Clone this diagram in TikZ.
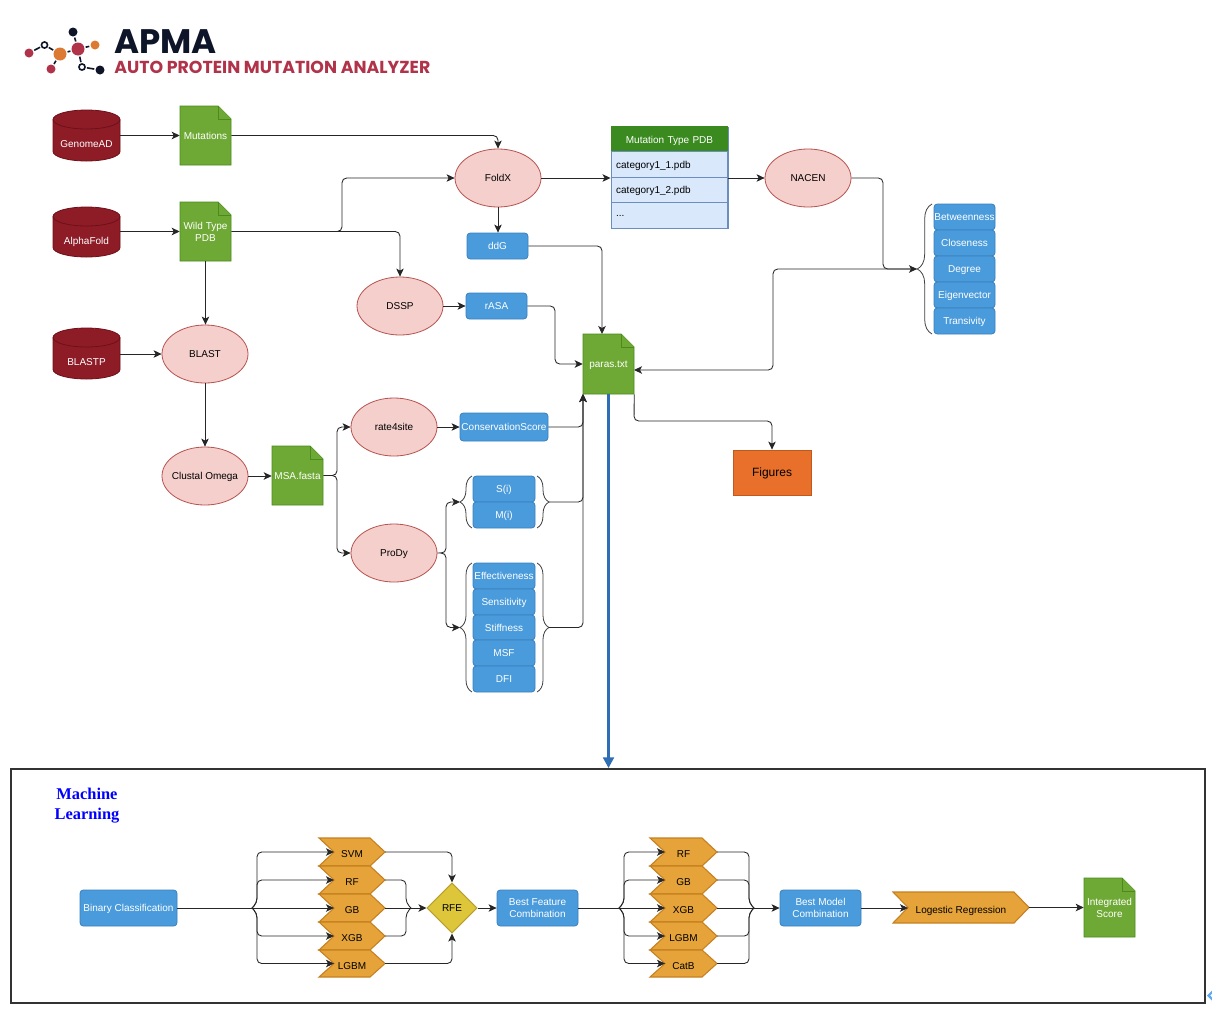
\documentclass[tikz,border=0pt]{standalone}
\usepackage{fontspec}
\setmainfont{Liberation Sans}
\newfontfamily\logofont{Poppins}
\newfontfamily\mlfont{Liberation Serif}
\usetikzlibrary{arrows.meta,shapes.geometric,decorations.pathreplacing}
\definecolor{cylfill}{HTML}{8E1C27}
\definecolor{cylline}{HTML}{6F0F18}
\definecolor{docfill}{HTML}{6FA935}
\definecolor{docline}{HTML}{4C8A1C}
\definecolor{pinkfill}{HTML}{F4CFCC}
\definecolor{pinkline}{HTML}{B85450}
\definecolor{boxfill}{HTML}{4A9BDC}
\definecolor{boxline}{HTML}{3A80BF}
\definecolor{chevfill}{HTML}{E5A33A}
\definecolor{chevline}{HTML}{C6801F}
\definecolor{diafill}{HTML}{DEC63A}
\definecolor{dialine}{HTML}{B8A030}
\definecolor{tabhead}{HTML}{3A8A1F}
\definecolor{tabfill}{HTML}{DAE8FC}
\definecolor{tabline}{HTML}{6C8EBF}
\definecolor{figfill}{HTML}{E8702A}
\definecolor{figline}{HTML}{C05A1C}
\definecolor{bigarrow}{HTML}{2F6DB5}
\definecolor{logodark}{HTML}{0F1528}
\definecolor{logored}{HTML}{B0334A}
\definecolor{logoorange}{HTML}{DC7A33}
\definecolor{cornerblue}{HTML}{5FA8F5}
\tikzset{
  txt/.style={font=\fontsize{7.5}{9}\selectfont,inner sep=0pt,align=center,text depth=0pt},
  wtxt/.style={txt,text=white},
  conn/.style={draw=black!85,line width=0.65pt,rounded corners=3.5pt,-{Stealth[length=6pt,width=5.6pt,inset=1.5pt]}},
  plain/.style={draw=black!85,line width=0.65pt,rounded corners=3.5pt},
  pinknode/.style={txt,ellipse,draw=pinkline,fill=pinkfill,line width=0.6pt,inner sep=-5pt,minimum width=64.5pt,minimum height=43.5pt},
  bluebox/.style={wtxt,rectangle,draw=boxline,fill=boxfill,line width=0.6pt,rounded corners=2.5pt},
  docpath/.style={draw=docline,fill=docfill,line width=0.6pt},
  chevpath/.style={draw=chevline,fill=chevfill,line width=0.8pt},
  cylpath/.style={draw=cylline,fill=cylfill,line width=0.6pt},
  tabrow/.style={txt,rectangle,draw=tabline,fill=tabfill,line width=0.7pt,align=left,inner xsep=3.75pt,text width=80pt,minimum height=19pt},
  bracepath/.style={draw=black!75,line width=0.6pt,decorate},
  logolink/.style={draw=logodark,line width=1.2pt,shorten >=0.8pt,shorten <=0.8pt},
  dotnode/.style={circle,inner sep=0pt},
}
\newcommand{\bbox}[6]{\node[bluebox,minimum width={(#4-#2)*0.75pt},minimum height={(#5-#3)*0.75pt}] (#1) at ({(#2+#4)/2},{(#3+#5)/2}) {#6};}
\newcommand{\docn}[6]{%
  \path[docpath] (#2,#3) -- ({#4-13},#3) -- (#4,{#3+13}) -- (#4,#5) -- (#2,#5) -- cycle;
  \path[docpath] ({#4-13},#3) -- ({#4-13},{#3+13}) -- (#4,{#3+13});
  \node[wtxt,minimum width={(#4-#2)*0.75pt},minimum height={(#5-#3)*0.75pt}] (#1) at ({(#2+#4)/2},{(#3+#5)/2}) {#6};}
\newcommand{\cyln}[6]{%
  \path[cylpath] (#2,{#3+9.5}) -- (#2,{#5-9.5}) arc[start angle=180,end angle=0,x radius={(#4-#2)/2},y radius=9.5] -- (#4,{#3+9.5}) arc[start angle=0,end angle=-180,x radius={(#4-#2)/2},y radius=9.5] -- cycle;
  \draw[cylline,line width=0.6pt] (#2,{#3+9.5}) arc[start angle=180,end angle=0,x radius={(#4-#2)/2},y radius=9.5];
  \node[inner sep=0pt,minimum width={(#4-#2)*0.75pt},minimum height={(#5-#3)*0.75pt}] (#1) at ({(#2+#4)/2},{(#3+#5)/2}) {};
  \node[wtxt] (#1-label) at ({(#2+#4)/2},{(#3+#5)/2+8.5}) {#6};}
\newcommand{\chev}[6]{%
  \path[chevpath] (#2,#3) -- ({#4-15},#3) -- (#4,{(#3+#5)/2}) -- ({#4-15},#5) -- (#2,#5) -- ({#2+15},{(#3+#5)/2}) -- cycle;
  \coordinate (#1-in) at ({#2+15},{(#3+#5)/2});
  \coordinate (#1-out) at (#4,{(#3+#5)/2});
  \node[txt] (#1) at ({(#2+#4)/2},{(#3+#5)/2+2}) {#6};}
\begin{document}
\begin{tikzpicture}[x=0.75pt,y=-0.75pt]
\useasboundingbox (0,0) rectangle (1212,1014);
\fill[white] (0,0) rectangle (1212,1014);

% logo
\node[dotnode,fill=logored,minimum size=6.75pt] (la) at (29,53) {};
\node[dotnode,draw=logodark,fill=white,line width=1.2pt,minimum size=4.6pt] (lb) at (44.5,45) {};
\node[dotnode,fill=logoorange,minimum size=9.75pt] (lc) at (60,54) {};
\node[dotnode,fill=logored,minimum size=9.75pt] (ld) at (78,49) {};
\node[dotnode,fill=logodark,minimum size=6.75pt] (le) at (73,32) {};
\node[dotnode,fill=logoorange,minimum size=6.75pt] (lf) at (95,45) {};
\node[dotnode,fill=logored,minimum size=6.75pt] (lg) at (51,69) {};
\node[dotnode,draw=logodark,fill=white,line width=1.2pt,minimum size=4.6pt] (lh) at (82,67) {};
\node[dotnode,fill=logodark,minimum size=6.75pt] (li) at (100,70) {};
\draw[logolink] (la) -- (lb);
\draw[logolink] (lb) -- (lc);
\draw[logolink] (lc) -- (ld);
\draw[logolink] (ld) -- (le);
\draw[logolink] (ld) -- (lf);
\draw[logolink] (lc) -- (lg);
\draw[logolink] (ld) -- (lh);
\draw[logolink] (lh) -- (li);
\node[anchor=base west,inner sep=0pt,text=logodark,font=\logofont\bfseries\fontsize{25.5}{28}\selectfont] (apma) at (114,53) {APMA};
\node[anchor=base west,inner sep=0pt,text=logored,font=\logofont\bfseries\fontsize{13}{15}\selectfont] (apmasub) at (114,73.5) {AUTO PROTEIN MUTATION ANALYZER};

% sources
\cyln{gnomad}{53}{110}{120}{161}{GenomeAD}
\cyln{afold}{53}{207}{120}{257}{AlphaFold}
\cyln{blastp}{53}{328}{120}{379}{BLASTP}

% docs
\docn{mut}{180}{106}{231}{165}{Mutations}
\docn{wt}{180}{202}{231}{261}{Wild Type\\PDB}
\docn{paras}{583}{334}{634}{394}{paras.txt}
\docn{msa}{272}{446}{323}{505}{MSA.fasta}

% ellipses
\node[pinknode] (foldx) at (498,178) {FoldX};
\node[pinknode] (nacen) at (808,178) {NACEN};
\node[pinknode] (dssp) at (400,306) {DSSP};
\node[pinknode] (blast) at (205,354) {BLAST};
\node[pinknode] (clustal) at (205,476) {Clustal Omega};
\node[pinknode] (rate) at (394,427) {rate4site};
\node[pinknode] (prody) at (394,553) {ProDy};

% table
\node[txt,rectangle,draw=tabline,fill=tabfill,line width=0.7pt,minimum width=87.75pt,minimum height=75.75pt] (table) at (669.5,177.5) {};
\node[tabrow,draw=tabhead,fill=tabhead,text=white,align=center] (thead) at (669.5,139.5) {Mutation Type PDB};
\node[tabrow] (row1) at (669.5,164.5) {category1\_1.pdb};
\node[tabrow] (row2) at (669.5,190) {category1\_2.pdb};
\node[tabrow] (row3) at (669.5,215.5) {...};

% blue boxes
\bbox{ddg}{467}{233}{528}{259}{ddG}
\bbox{rasa}{466}{293}{527}{319}{rASA}
\bbox{cons}{460}{413}{548}{441}{ConservationScore}
\bbox{si}{473}{476}{535}{502}{S(i)}
\bbox{mi}{473}{502}{535}{528}{M(i)}
\bbox{eff}{473}{563}{535}{589}{Effectiveness}
\bbox{sens}{473}{589}{535}{615}{Sensitivity}
\bbox{stif}{473}{615}{535}{640}{Stiffness}
\bbox{msf}{473}{640}{535}{666}{MSF}
\bbox{dfi}{473}{666}{535}{692}{DFI}
\bbox{betw}{934}{204}{995}{230}{Betweenness}
\bbox{clos}{934}{230}{995}{256}{Closeness}
\bbox{degr}{934}{256}{995}{282}{Degree}
\bbox{eigv}{934}{282}{995}{308}{Eigenvector}
\bbox{tran}{934}{308}{995}{334}{Transivity}

% figures
\node[txt,rectangle,draw=figline,fill=figfill,line width=0.6pt,text=black,font=\fontsize{9}{11}\selectfont,minimum width=58.5pt,minimum height=33.75pt] (figs) at (772,472.5) {Figures};

% braces
\coordinate (b1t) at (472,476); \coordinate (b1b) at (472,528); \coordinate (b1tip) at (460,502);
\coordinate (b2t) at (472,563); \coordinate (b2b) at (472,692); \coordinate (b2tip) at (460,627.5);
\coordinate (b3t) at (537,476); \coordinate (b3b) at (537,528); \coordinate (b3tip) at (549,502);
\coordinate (b4t) at (537,563); \coordinate (b4b) at (537,692); \coordinate (b4tip) at (549,627.5);
\coordinate (b5t) at (932,204); \coordinate (b5b) at (932,334); \coordinate (b5tip) at (917,269);
\draw[bracepath,decoration={brace,amplitude=9pt}] (b1b) -- (b1t);
\draw[bracepath,decoration={brace,amplitude=9pt}] (b2b) -- (b2t);
\draw[bracepath,decoration={brace,amplitude=9pt}] (b3t) -- (b3b);
\draw[bracepath,decoration={brace,amplitude=9pt}] (b4t) -- (b4b);
\draw[bracepath,decoration={brace,amplitude=11pt}] (b5b) -- (b5t);

% upper connectors
\draw[conn] (gnomad.east |- mut.west) -- (mut.west);
\draw[conn] (afold.east |- wt.west) -- (wt.west);
\draw[conn] (blastp.east |- blast.west) -- (blast.west);
\draw[conn] (mut.east) -| (foldx.north);
\coordinate (wtfork) at (336,231.5);
\draw[conn] (wtfork) -- (342,231.5) |- (foldx.west);
\draw[conn] (wt.east) -| (dssp.north);
\draw[conn] (wt.south) -- (wt.south |- blast.north);
\draw[conn] (blast.south) -- (clustal.north);
\draw[conn] (clustal.east) -- (clustal.east -| msa.west);
\draw[conn] (foldx.east) -- (foldx.east -| table.west);
\draw[conn] (foldx.east -| table.east) -- (nacen.west);
\draw[conn] (foldx.south) -- (foldx.south |- ddg.north);
\draw[conn] (dssp.east) -- (rasa.west);
\draw[conn] (ddg.east) -- (602,246) -- (602,334);
\draw[conn] (rasa.east) -- (555,306) -- (555,364) -- (paras.west);
\draw[conn] (nacen.east) -- (883,178) -- (883,269) -- (b5tip);
\coordinate (parasr) at (634,370);
\draw[conn] (b5tip) -- (773,269) -- (773,370) -- (parasr);
\draw[conn] (paras.south east) -- (634,421) -- (772,421) -- (figs.north);
\coordinate (parasb) at (583,394);
\draw[conn] (msa.east) -- (337,475.5) |- (rate.west);
\coordinate (msafork) at (333,475.5);
\draw[conn] (msafork) -- (337,475.5) |- (prody.west);
\draw[conn] (rate.east) -- (cons.west);
\draw[conn] (cons.east) -| (parasb);
\draw[conn] (b3tip) -| (parasb);
\draw[conn] (b4tip) -| (parasb);
\draw[conn] (prody.east) -- (446,553) |- (b1tip);
\coordinate (prodyfork) at (442,553);
\draw[conn] (prodyfork) -- (446,553) |- (b2tip);

% ML box
\node[rectangle,draw=black!80,line width=1.4pt,minimum width=895.5pt,minimum height=175.5pt,inner sep=0pt] (mlbox) at (608,886) {};
\draw[-{Triangle[length=8pt,width=8pt]},bigarrow,line width=2.3pt] (paras.south) -- (paras.south |- mlbox.north);
\node[font=\mlfont\bfseries\fontsize{12.3}{15}\selectfont,text=blue,align=center,inner sep=0pt] (mltitle) at (87,805.5) {Machine\\Learning};

\bbox{bin}{80}{890}{177}{926}{Binary Classification}
\bbox{bestf}{497}{890}{578}{926}{Best Feature\\Combination}
\bbox{bestm}{780}{890}{861}{926}{Best Model\\Combination}

\chev{svm}{319}{838}{385}{866}{SVM}
\chev{rfa}{319}{866}{385}{894}{RF}
\chev{gba}{319}{894}{385}{922}{GB}
\chev{xgba}{319}{922}{385}{950}{XGB}
\chev{lgba}{319}{950}{385}{977}{LGBM}
\chev{rfb}{650}{838}{717}{866}{RF}
\chev{gbb}{650}{866}{717}{894}{GB}
\chev{xgbb}{650}{894}{717}{922}{XGB}
\chev{lgbb}{650}{922}{717}{950}{LGBM}
\chev{catb}{650}{950}{717}{977}{CatB}
\chev{logr}{893}{892}{1029}{923}{Logestic Regression}
\node[txt,diamond,draw=dialine,fill=diafill,line width=0.8pt,inner sep=-3pt,minimum width=37.5pt,minimum height=37.5pt] (rfe) at (452,908) {RFE};
\docn{integ}{1084}{878}{1135}{937}{Integrated\\Score}

% ML connectors
\coordinate (fka) at (252,908);
\coordinate (fkb) at (619,908);
\coordinate (fkc) at (411,908);
\draw[conn] (fka) -- (257,903) |- (svm-in);
\draw[conn] (fka) -- (257,903) |- (rfa-in);
\draw[conn] (bin.east) -- (gba-in);
\draw[conn] (fka) -- (257,913) |- (xgba-in);
\draw[conn] (fka) -- (257,913) |- (lgba-in);
\draw[conn] (svm-out) -| (rfe.north);
\draw[conn] (lgba-out) -| (rfe.south);
\draw[plain] (rfa-out) -- (406,880) -- (406,903) -- (fkc);
\draw[plain] (xgba-out) -- (406,936) -- (406,913) -- (fkc);
\draw[conn] (gba-out) -- (rfe.west);
\draw[conn] (rfe.east) -- (bestf.west);
\draw[conn] (fkb) -- (624,903) |- (rfb-in);
\draw[conn] (fkb) -- (624,903) |- (gbb-in);
\draw[conn] (bestf.east) -- (xgbb-in);
\draw[conn] (fkb) -- (624,913) |- (lgbb-in);
\draw[conn] (fkb) -- (624,913) |- (catb-in);
\coordinate (fkd) at (754,908);
\draw[plain] (rfb-out) -| (749,903) -- (fkd);
\draw[plain] (gbb-out) -| (749,903) -- (fkd);
\draw[plain] (lgbb-out) -| (749,913) -- (fkd);
\draw[plain] (catb-out) -| (749,913) -- (fkd);
\draw[conn] (xgbb-out) -- (bestm.west);
\draw[conn] (bestm.east) -- (bestm.east -| logr-in);
\draw[conn] (logr-out) -- (logr-out -| integ.west);

\draw[cornerblue,line width=1.6pt] (1214,990) -- (1208.5,995.5) -- (1214,1001);
\end{tikzpicture}
\end{document}
